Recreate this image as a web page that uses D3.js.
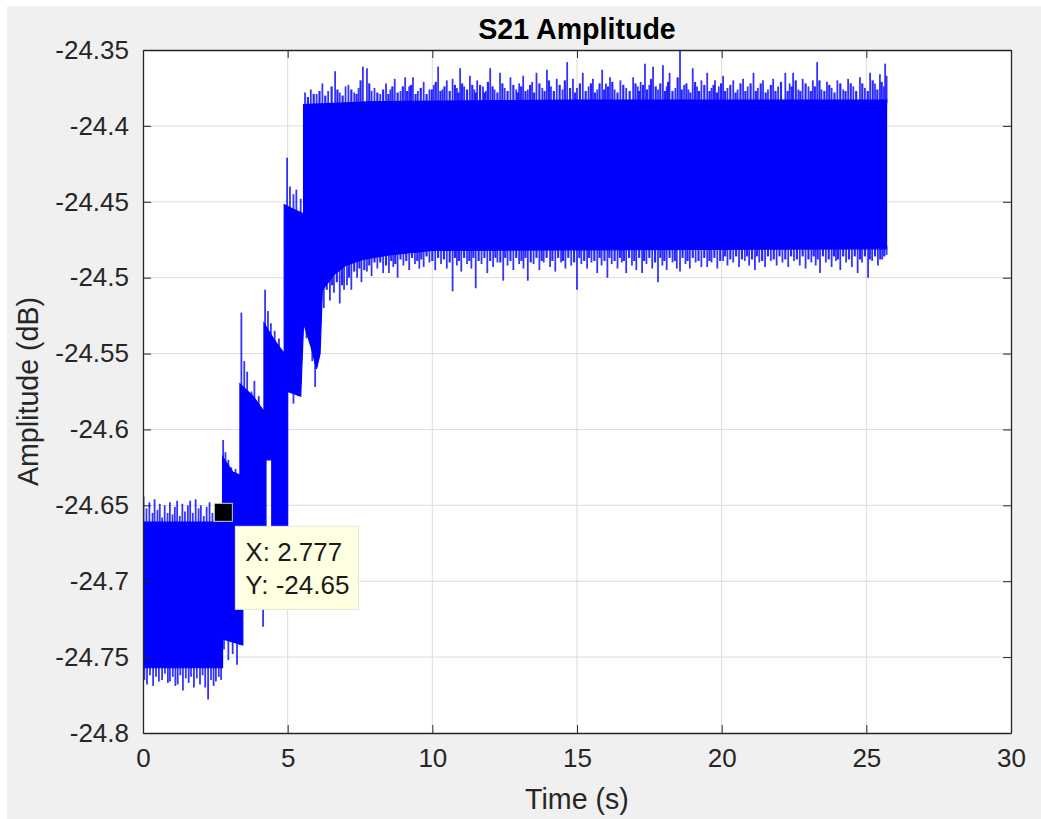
<!DOCTYPE html>
<html>
<head>
<meta charset="utf-8">
<script src="https://cdn.jsdelivr.net/npm/d3@7"></script>
<style>
  body { margin: 0; background: #fff; }
  svg { display: block; font-family: "Liberation Sans", Arial, Helvetica, sans-serif; }
</style>
</head>
<body>
<svg width="1041" height="819"></svg>
<script>
// S21 amplitude vs time, MATLAB style plot with a data tip

// ticks
const xTicks = [0, 5, 10, 15, 20, 25, 30];
const yTicks = [-24.8, -24.75, -24.7, -24.65, -24.6, -24.55, -24.5, -24.45, -24.4, -24.35];
const yTickLabels = ["-24.8", "-24.75", "-24.7", "-24.65", "-24.6", "-24.55", "-24.5", "-24.45", "-24.4", "-24.35"];

// solid part of the trace: upper edge and lower edge (time s, dB)
const coreHiT = [0, 2.75, 2.75, 3.1, 3.35, 3.35, 3.8, 4.18, 4.18, 4.5, 4.88, 4.88, 5.2, 5.55, 5.55, 8, 15, 25.7];
const coreHiV = [-24.661, -24.661, -24.618, -24.628, -24.630, -24.570, -24.578, -24.588, -24.530, -24.540, -24.550, -24.452, -24.455, -24.458, -24.386, -24.384, -24.383, -24.383];
const coreLoT = [0, 2.75, 2.75, 3.45, 3.45, 4.25, 4.25, 4.45, 4.45, 5.0, 5.0, 5.45, 5.55, 5.8, 6.0, 6.12, 6.2, 6.6, 7.0, 7.6, 8.5, 10, 25.7];
const coreLoV = [-24.757, -24.757, -24.738, -24.742, -24.700, -24.700, -24.620, -24.620, -24.700, -24.700, -24.575, -24.578, -24.530, -24.545, -24.560, -24.550, -24.508, -24.498, -24.492, -24.488, -24.485, -24.482, -24.481];

// tall noise peaks above the solid part [time, dB]
const upperPeaks = [
  [0.02, -24.644], [0.12, -24.652], [0.22, -24.648], [0.33, -24.655], [0.40, -24.646], [0.50, -24.653],
  [0.58, -24.649], [0.66, -24.658], [0.75, -24.650], [0.85, -24.655], [0.93, -24.648], [1.02, -24.656],
  [1.10, -24.651], [1.18, -24.647], [1.27, -24.657], [1.36, -24.649], [1.45, -24.654], [1.55, -24.650],
  [1.63, -24.647], [1.72, -24.655], [1.82, -24.646], [1.92, -24.652], [2.00, -24.650], [2.10, -24.657],
  [2.20, -24.651], [2.30, -24.648], [2.40, -24.655], [2.50, -24.652], [2.60, -24.658], [2.68, -24.655],
  [2.77, -24.607], [2.85, -24.615], [2.95, -24.620], [3.05, -24.625], [3.20, -24.626],
  [3.40, -24.523], [3.50, -24.555], [3.60, -24.562], [3.75, -24.575], [3.85, -24.568], [4.00, -24.578],
  [4.22, -24.508], [4.32, -24.522], [4.42, -24.530], [4.55, -24.535], [4.70, -24.540],
  [4.98, -24.421], [5.08, -24.440], [5.20, -24.445], [5.30, -24.442], [5.45, -24.448],
  [5.60, -24.378], [5.80, -24.376], [6.00, -24.379], [6.20, -24.372], [6.40, -24.377], [6.64, -24.364],
  [6.80, -24.378], [7.00, -24.374], [7.10, -24.373], [7.30, -24.378], [7.45, -24.375], [7.60, -24.361],
  [7.74, -24.362], [7.90, -24.377], [8.00, -24.375], [8.20, -24.379], [8.40, -24.372], [8.55, -24.376],
  [8.70, -24.369], [8.90, -24.377], [9.06, -24.368], [9.20, -24.374], [9.33, -24.368], [9.50, -24.377],
  [9.70, -24.371], [9.90, -24.376], [10.05, -24.373], [10.20, -24.361], [10.35, -24.376], [10.50, -24.370],
  [10.70, -24.369], [10.85, -24.375], [10.96, -24.362], [11.10, -24.374], [11.30, -24.367], [11.45, -24.376],
  [11.55, -24.370], [11.75, -24.374], [11.85, -24.377], [12.00, -24.362], [12.15, -24.376], [12.34, -24.365],
  [12.50, -24.375], [12.70, -24.368], [12.90, -24.376], [13.00, -24.372], [13.14, -24.367], [13.30, -24.376],
  [13.45, -24.371], [13.60, -24.365], [13.80, -24.375], [13.96, -24.363], [14.10, -24.374], [14.30, -24.369],
  [14.50, -24.376], [14.66, -24.358], [14.86, -24.369], [15.00, -24.375], [15.20, -24.365], [15.40, -24.374],
  [15.55, -24.369], [15.70, -24.376], [15.87, -24.363], [16.00, -24.372], [16.14, -24.368], [16.30, -24.376],
  [16.50, -24.370], [16.70, -24.375], [16.94, -24.368], [17.10, -24.374], [17.20, -24.371], [17.35, -24.359],
  [17.50, -24.373], [17.63, -24.361], [17.80, -24.376], [17.97, -24.360], [18.10, -24.374], [18.20, -24.365],
  [18.40, -24.375], [18.56, -24.350], [18.70, -24.373], [18.85, -24.376], [19.00, -24.362], [19.15, -24.374],
  [19.30, -24.370], [19.50, -24.365], [19.65, -24.375], [19.77, -24.370], [19.90, -24.374], [20.05, -24.367],
  [20.20, -24.375], [20.40, -24.370], [20.55, -24.376], [20.74, -24.369], [20.90, -24.374], [21.10, -24.365],
  [21.25, -24.375], [21.43, -24.370], [21.60, -24.376], [21.78, -24.369], [21.95, -24.374], [22.20, -24.365],
  [22.35, -24.372], [22.47, -24.365], [22.65, -24.376], [22.80, -24.369], [23.00, -24.374], [23.15, -24.370],
  [23.30, -24.358], [23.45, -24.376], [23.64, -24.371], [23.80, -24.375], [24.00, -24.370], [24.20, -24.376],
  [24.37, -24.369], [24.55, -24.374], [24.78, -24.368], [24.95, -24.375], [25.13, -24.365], [25.30, -24.372],
  [25.47, -24.366], [25.60, -24.374], [25.65, -24.359], [25.70, -24.367]
];

// short fringe between the tall peaks, upper side [time, dB]
const upperFringe = [
  [5.70, -24.381], [5.90, -24.379], [6.10, -24.377], [6.30, -24.380], [6.52, -24.374], [6.72, -24.376],
  [6.90, -24.380], [7.20, -24.376], [7.38, -24.379], [7.52, -24.370], [7.82, -24.372], [8.10, -24.378],
  [8.30, -24.376], [8.48, -24.379], [8.62, -24.374], [8.80, -24.378], [8.98, -24.374], [9.13, -24.377],
  [9.26, -24.373], [9.42, -24.379], [9.60, -24.375], [9.80, -24.379], [9.98, -24.376], [10.12, -24.371],
  [10.28, -24.377], [10.42, -24.374], [10.60, -24.377], [10.78, -24.373], [10.90, -24.378], [11.03, -24.372],
  [11.20, -24.376], [11.38, -24.373], [11.50, -24.378], [11.65, -24.373], [11.80, -24.378], [11.92, -24.371],
  [12.08, -24.374], [12.25, -24.378], [12.42, -24.372], [12.60, -24.377], [12.80, -24.373], [12.95, -24.378],
  [13.07, -24.374], [13.22, -24.377], [13.38, -24.373], [13.52, -24.378], [13.70, -24.372], [13.88, -24.377],
  [14.03, -24.370], [14.20, -24.377], [14.40, -24.373], [14.58, -24.370], [14.76, -24.375], [14.93, -24.378],
  [15.10, -24.372], [15.30, -24.377], [15.48, -24.372], [15.62, -24.378], [15.78, -24.372], [15.94, -24.376],
  [16.07, -24.374], [16.22, -24.371], [16.40, -24.378], [16.60, -24.373], [16.82, -24.377], [17.02, -24.372],
  [17.15, -24.377], [17.28, -24.373], [17.42, -24.376], [17.56, -24.369], [17.72, -24.374], [17.88, -24.372],
  [18.04, -24.377], [18.15, -24.371], [18.30, -24.377], [18.48, -24.368], [18.62, -24.376], [18.78, -24.372],
  [18.92, -24.378], [19.08, -24.371], [19.22, -24.377], [19.40, -24.373], [19.58, -24.377], [19.72, -24.373],
  [19.84, -24.378], [19.98, -24.372], [20.12, -24.377], [20.30, -24.373], [20.48, -24.378], [20.65, -24.372],
  [20.82, -24.377], [21.00, -24.372], [21.18, -24.377], [21.35, -24.372], [21.52, -24.378], [21.70, -24.373],
  [21.86, -24.377], [22.05, -24.371], [22.28, -24.377], [22.42, -24.374], [22.56, -24.370], [22.72, -24.377],
  [22.90, -24.372], [23.08, -24.377], [23.22, -24.374], [23.38, -24.370], [23.55, -24.377], [23.72, -24.373],
  [23.90, -24.378], [24.10, -24.372], [24.28, -24.377], [24.46, -24.372], [24.65, -24.377], [24.86, -24.372],
  [25.05, -24.377], [25.22, -24.370], [25.38, -24.376], [25.53, -24.371]
];

// tall noise peaks below the solid part [time, dB]
const lowerPeaks = [
  [0.05, -24.765], [0.14, -24.768], [0.24, -24.762], [0.35, -24.769], [0.45, -24.763], [0.55, -24.766],
  [0.66, -24.765], [0.76, -24.761], [0.86, -24.767], [0.93, -24.766], [1.03, -24.763], [1.12, -24.769],
  [1.20, -24.768], [1.29, -24.762], [1.38, -24.772], [1.48, -24.764], [1.58, -24.767], [1.66, -24.763],
  [1.76, -24.770], [1.86, -24.764], [1.97, -24.768], [2.06, -24.762], [2.15, -24.770], [2.25, -24.778],
  [2.35, -24.765], [2.44, -24.769], [2.52, -24.766], [2.62, -24.763], [2.70, -24.765],
  [2.80, -24.745], [2.95, -24.752], [3.10, -24.748], [3.25, -24.755], [3.35, -24.742], [4.15, -24.730],
  [5.20, -24.583], [5.35, -24.578],
  [5.65, -24.540], [5.85, -24.555], [5.95, -24.572], [6.25, -24.520], [6.46, -24.515], [6.60, -24.510],
  [6.80, -24.517], [6.95, -24.508], [7.05, -24.505], [7.20, -24.508], [7.40, -24.500], [7.55, -24.503],
  [7.74, -24.496], [7.90, -24.499], [8.10, -24.494], [8.30, -24.497], [8.50, -24.497], [8.65, -24.493],
  [8.80, -24.500], [9.00, -24.492], [9.20, -24.495], [9.40, -24.491], [9.55, -24.494], [9.70, -24.493],
  [9.90, -24.490], [10.10, -24.495], [10.30, -24.491], [10.50, -24.494], [10.70, -24.509], [10.85, -24.492],
  [11.00, -24.496], [11.20, -24.491], [11.35, -24.494], [11.50, -24.507], [11.70, -24.491], [11.90, -24.497],
  [12.10, -24.493], [12.25, -24.490], [12.45, -24.502], [12.60, -24.492], [12.80, -24.495], [13.00, -24.491],
  [13.15, -24.494], [13.30, -24.502], [13.50, -24.491], [13.70, -24.495], [13.85, -24.490], [14.07, -24.493],
  [14.25, -24.496], [14.45, -24.490], [14.60, -24.494], [14.80, -24.492], [15.00, -24.508], [15.15, -24.491],
  [15.35, -24.494], [15.50, -24.490], [15.70, -24.497], [15.85, -24.492], [16.05, -24.500], [16.20, -24.491],
  [16.40, -24.494], [16.55, -24.490], [16.70, -24.497], [16.90, -24.492], [17.05, -24.495], [17.25, -24.497],
  [17.40, -24.491], [17.60, -24.494], [17.80, -24.503], [17.95, -24.492], [18.10, -24.495], [18.30, -24.490],
  [18.45, -24.494], [18.56, -24.496], [18.75, -24.491], [18.90, -24.494], [19.10, -24.490], [19.30, -24.493],
  [19.50, -24.493], [19.65, -24.490], [19.85, -24.494], [20.05, -24.489], [20.20, -24.492], [20.40, -24.490],
  [20.60, -24.493], [20.80, -24.489], [20.95, -24.492], [21.15, -24.495], [21.30, -24.490], [21.50, -24.493],
  [21.70, -24.489], [21.90, -24.492], [22.10, -24.490], [22.30, -24.493], [22.50, -24.489], [22.70, -24.492],
  [22.90, -24.494], [23.10, -24.490], [23.25, -24.492], [23.40, -24.497], [23.60, -24.490], [23.80, -24.493],
  [23.95, -24.489], [24.10, -24.495], [24.30, -24.490], [24.50, -24.493], [24.70, -24.497], [24.85, -24.490],
  [25.06, -24.500], [25.20, -24.489], [25.40, -24.492], [25.55, -24.488], [25.70, -24.485]
];

// short fringe between the tall peaks, lower side [time, dB]
const lowerFringe = [
  [6.35, -24.508], [6.53, -24.505], [6.70, -24.503], [6.88, -24.505], [7.12, -24.500], [7.30, -24.496],
  [7.48, -24.494], [7.65, -24.495], [7.82, -24.492], [8.00, -24.490], [8.20, -24.490], [8.40, -24.492],
  [8.58, -24.489], [8.72, -24.491], [8.90, -24.488], [9.10, -24.489], [9.30, -24.487], [9.48, -24.489],
  [9.62, -24.488], [9.80, -24.486], [10.00, -24.489], [10.20, -24.487], [10.40, -24.488], [10.60, -24.490],
  [10.78, -24.487], [10.92, -24.489], [11.10, -24.487], [11.28, -24.489], [11.42, -24.487], [11.60, -24.489],
  [11.80, -24.487], [12.00, -24.489], [12.18, -24.487], [12.35, -24.490], [12.52, -24.487], [12.70, -24.489],
  [12.90, -24.487], [13.08, -24.489], [13.22, -24.487], [13.40, -24.490], [13.60, -24.487], [13.78, -24.489],
  [13.95, -24.487], [14.15, -24.489], [14.35, -24.487], [14.52, -24.489], [14.70, -24.487], [14.90, -24.490],
  [15.08, -24.487], [15.25, -24.489], [15.42, -24.487], [15.60, -24.489], [15.78, -24.487], [15.95, -24.489],
  [16.12, -24.487], [16.30, -24.489], [16.48, -24.487], [16.62, -24.489], [16.80, -24.487], [16.98, -24.489],
  [17.15, -24.487], [17.32, -24.489], [17.50, -24.487], [17.70, -24.490], [17.88, -24.487], [18.02, -24.489],
  [18.20, -24.487], [18.38, -24.489], [18.65, -24.487], [18.82, -24.489], [19.00, -24.487], [19.20, -24.489],
  [19.40, -24.487], [19.58, -24.489], [19.75, -24.487], [19.95, -24.489], [20.12, -24.486], [20.30, -24.488],
  [20.50, -24.486], [20.70, -24.488], [20.88, -24.486], [21.05, -24.488], [21.22, -24.486], [21.40, -24.489],
  [21.60, -24.486], [21.80, -24.488], [22.00, -24.486], [22.20, -24.488], [22.40, -24.486], [22.60, -24.488],
  [22.80, -24.486], [23.00, -24.488], [23.18, -24.486], [23.32, -24.488], [23.50, -24.486], [23.70, -24.488],
  [23.88, -24.486], [24.02, -24.488], [24.20, -24.486], [24.40, -24.488], [24.60, -24.486], [24.78, -24.488],
  [24.95, -24.486], [25.12, -24.488], [25.30, -24.486], [25.48, -24.488], [25.62, -24.486]
];

// data tip
const tipX = 2.777;
const tipY = -24.6546;

const svg = d3.select("svg");
const width = +svg.attr("width");
const height = +svg.attr("height");
const margin = { top: 50, right: 30, bottom: 86, left: 143 };
const innerWidth = width - margin.left - margin.right;
const innerHeight = height - margin.top - margin.bottom;
const ink = "#262626";

// figure background (grey with thin white edge like the screenshot)
svg.append("rect").attr("width", width).attr("height", height).attr("fill", "#ffffff");
svg.append("rect").attr("x", 7).attr("y", 6).attr("width", width - 7).attr("height", height - 6).attr("fill", "#f0f0f0");

const x = d3.scaleLinear().domain([0, 30]).range([margin.left, margin.left + innerWidth]);
const y = d3.scaleLinear().domain([-24.8, -24.35]).range([margin.top + innerHeight, margin.top]);

svg.append("rect")
  .attr("x", x(0)).attr("y", y(-24.35))
  .attr("width", x(30) - x(0)).attr("height", y(-24.8) - y(-24.35))
  .attr("fill", "#fff");

// grid
const grid = svg.append("g");
grid.append("g").selectAll("line")
  .data(xTicks.slice(1, -1))
  .join("line")
    .attr("x1", d => x(d)).attr("x2", d => x(d))
    .attr("y1", y(-24.8)).attr("y2", y(-24.35))
    .attr("stroke", "#dcdcdc").attr("stroke-width", 1);
grid.append("g").selectAll("line")
  .data(yTicks.slice(1, -1))
  .join("line")
    .attr("x1", x(0)).attr("x2", x(30))
    .attr("y1", d => y(d)).attr("y2", d => y(d))
    .attr("stroke", "#dcdcdc").attr("stroke-width", 1);

// trace
svg.append("clipPath").attr("id", "plotclip")
  .append("rect")
  .attr("x", x(0)).attr("y", y(-24.35))
  .attr("width", x(30) - x(0)).attr("height", y(-24.8) - y(-24.35));

const trace = svg.append("g").attr("clip-path", "url(#plotclip)");

function coreAt(ts, vs, t) {
  const i = d3.bisectRight(ts, t) - 1;
  if (i < 0) return vs[0];
  if (i >= ts.length - 1) return vs[vs.length - 1];
  return vs[i] + (vs[i + 1] - vs[i]) * (t - ts[i]) / (ts[i + 1] - ts[i]);
}

const outline = coreHiT.map((t, i) => [t, coreHiV[i]])
  .concat(coreLoT.map((t, i) => [t, coreLoV[i]]).reverse());

trace.append("path")
  .attr("d", d3.line().x(d => x(d[0])).y(d => y(d[1]))(outline) + "Z")
  .attr("fill", "#0000ff")
  .attr("stroke", "#0000ff")
  .attr("stroke-width", 1.2);

function drawPeaks(data, ts, vs, inward, w, op) {
  trace.append("g")
    .selectAll("line")
    .data(data)
    .join("line")
      .attr("x1", d => x(d[0])).attr("x2", d => x(d[0]))
      .attr("y1", d => y(d[1]))
      .attr("y2", d => y(coreAt(ts, vs, d[0])) + inward)
      .attr("stroke", "#0000ff")
      .attr("stroke-opacity", op)
      .attr("stroke-width", w);
}
drawPeaks(upperFringe, coreHiT, coreHiV, 3, 2.2, 0.85);
drawPeaks(lowerFringe, coreLoT, coreLoV, -3, 2.2, 0.85);
drawPeaks(upperPeaks, coreHiT, coreHiV, 3, 1.8, 0.8);
drawPeaks(lowerPeaks, coreLoT, coreLoV, -3, 1.8, 0.8);

// axes, ticks pointing inward, box on
const axisStyle = g => {
  g.selectAll("path").attr("stroke", ink).attr("stroke-width", 1.3);
  g.selectAll("line").attr("stroke", ink).attr("stroke-width", 1);
  g.selectAll("text").attr("fill", ink).attr("font-size", 26).attr("font-family", null);
};
const noLabels = g => g.selectAll("text").remove();

svg.append("g")
  .attr("transform", `translate(0,${y(-24.8)})`)
  .call(d3.axisBottom(x).tickValues(xTicks).tickFormat(d3.format("d")).tickSizeInner(-8).tickSizeOuter(0).tickPadding(16))
  .call(axisStyle);

svg.append("g")
  .attr("transform", `translate(0,${y(-24.35)})`)
  .call(d3.axisTop(x).tickValues(xTicks).tickSizeInner(-8).tickSizeOuter(0))
  .call(axisStyle)
  .call(noLabels);

svg.append("g")
  .attr("transform", `translate(${x(0)},0)`)
  .call(d3.axisLeft(y).tickValues(yTicks).tickFormat((d, i) => yTickLabels[i]).tickSizeInner(-8).tickSizeOuter(0).tickPadding(14))
  .call(axisStyle);

svg.append("g")
  .attr("transform", `translate(${x(30)},0)`)
  .call(d3.axisRight(y).tickValues(yTicks).tickSizeInner(-8).tickSizeOuter(0))
  .call(axisStyle)
  .call(noLabels);

// titles
svg.append("text")
  .attr("x", (x(0) + x(30)) / 2).attr("y", 39)
  .attr("text-anchor", "middle")
  .attr("font-size", 28.6).attr("font-weight", "bold")
  .attr("fill", "#000")
  .text("S21 Amplitude");

svg.append("text")
  .attr("x", (x(0) + x(30)) / 2).attr("y", 809)
  .attr("text-anchor", "middle")
  .attr("font-size", 28.6)
  .attr("fill", ink)
  .text("Time (s)");

svg.append("text")
  .attr("transform", `translate(38,${(y(-24.8) + y(-24.35)) / 2}) rotate(-90)`)
  .attr("text-anchor", "middle")
  .attr("font-size", 28.6)
  .attr("fill", ink)
  .text("Amplitude (dB)");

// data tip
const tx = x(tipX), ty = y(tipY);
svg.append("rect")
  .attr("x", tx - 9).attr("y", ty - 9)
  .attr("width", 18).attr("height", 18)
  .attr("fill", "#000")
  .attr("stroke", "#d8d2a8").attr("stroke-width", 1);

const tip = svg.append("g").attr("transform", `translate(${tx + 12},${ty + 14})`);
tip.append("rect")
  .attr("width", 123).attr("height", 83)
  .attr("fill", "#ffffe1")
  .attr("stroke", "#e6e6cc").attr("stroke-width", 1);
tip.append("text")
  .attr("x", 10).attr("y", 35)
  .attr("font-size", 26).attr("fill", "#1a1a1a")
  .text("X: " + tipX);
tip.append("text")
  .attr("x", 10).attr("y", 68)
  .attr("font-size", 26).attr("fill", "#1a1a1a")
  .text("Y: " + tipY.toPrecision(4));
</script>
</body>
</html>
